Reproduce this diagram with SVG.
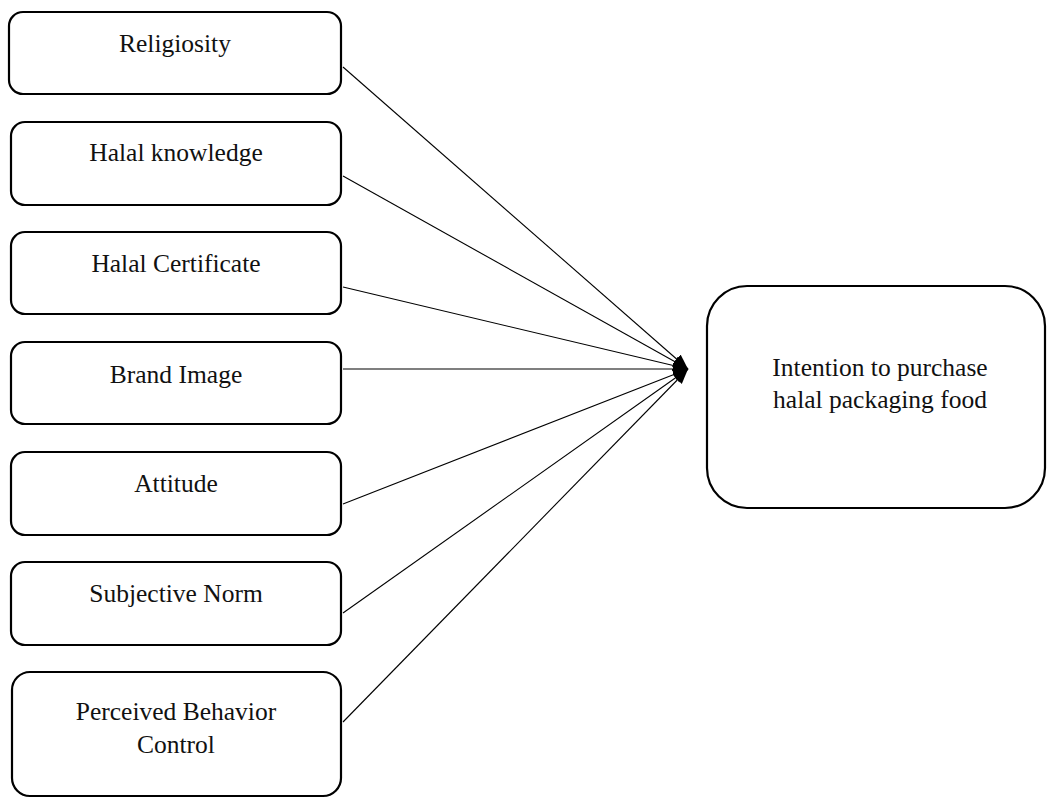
<svg xmlns="http://www.w3.org/2000/svg" width="1047" height="800" viewBox="0 0 1047 800">
<style>
.box{fill:#fff;stroke:#000;stroke-width:2.2}
.t{font-family:"Liberation Serif","Times New Roman",serif;font-size:25.5px;fill:#111;text-anchor:middle}
.c{stroke:#000;stroke-width:1.1;fill:none;marker-end:url(#ah)}
</style>
<defs>
<marker id="ah" markerUnits="userSpaceOnUse" markerWidth="18" markerHeight="14" refX="15" refY="6" orient="auto">
<path d="M0,0 L15,6 L0,12 z" fill="#000"/>
</marker>
</defs>
<rect width="1047" height="800" fill="#fff"/>
<g id="connectors">
<line class="c" x1="343" y1="67" x2="688" y2="369"/>
<line class="c" x1="343" y1="176" x2="688" y2="369"/>
<line class="c" x1="343" y1="287" x2="688" y2="369"/>
<line class="c" x1="343" y1="369" x2="688" y2="369"/>
<line class="c" x1="343" y1="504" x2="688" y2="369"/>
<line class="c" x1="343" y1="613" x2="688" y2="369"/>
<line class="c" x1="343" y1="722" x2="688" y2="369"/>
</g>
<g id="religiosity"><rect class="box" x="9" y="12" width="332" height="82" rx="14"/><text class="t" x="175" y="52">Religiosity</text></g>
<g id="halal-knowledge"><rect class="box" x="11" y="122" width="330" height="83" rx="14"/><text class="t" x="176" y="161">Halal knowledge</text></g>
<g id="halal-certificate"><rect class="box" x="11" y="232" width="330" height="82" rx="14"/><text class="t" x="176" y="272">Halal Certificate</text></g>
<g id="brand-image"><rect class="box" x="11" y="342" width="330" height="82" rx="14"/><text class="t" x="176" y="383">Brand Image</text></g>
<g id="attitude"><rect class="box" x="11" y="452" width="330" height="83" rx="14"/><text class="t" x="176" y="492">Attitude</text></g>
<g id="subjective-norm"><rect class="box" x="11" y="562" width="330" height="83" rx="14"/><text class="t" x="176" y="602">Subjective Norm</text></g>
<g id="perceived-behavior-control"><rect class="box" x="12" y="672" width="329" height="124" rx="18"/><text class="t" x="176" y="720">Perceived Behavior</text><text class="t" x="176" y="753">Control</text></g>
<g id="intention"><rect class="box" x="707" y="286" width="338" height="222" rx="40"/><text class="t" x="880" y="376">Intention to purchase</text><text class="t" x="880" y="408">halal packaging food</text></g>
</svg>
